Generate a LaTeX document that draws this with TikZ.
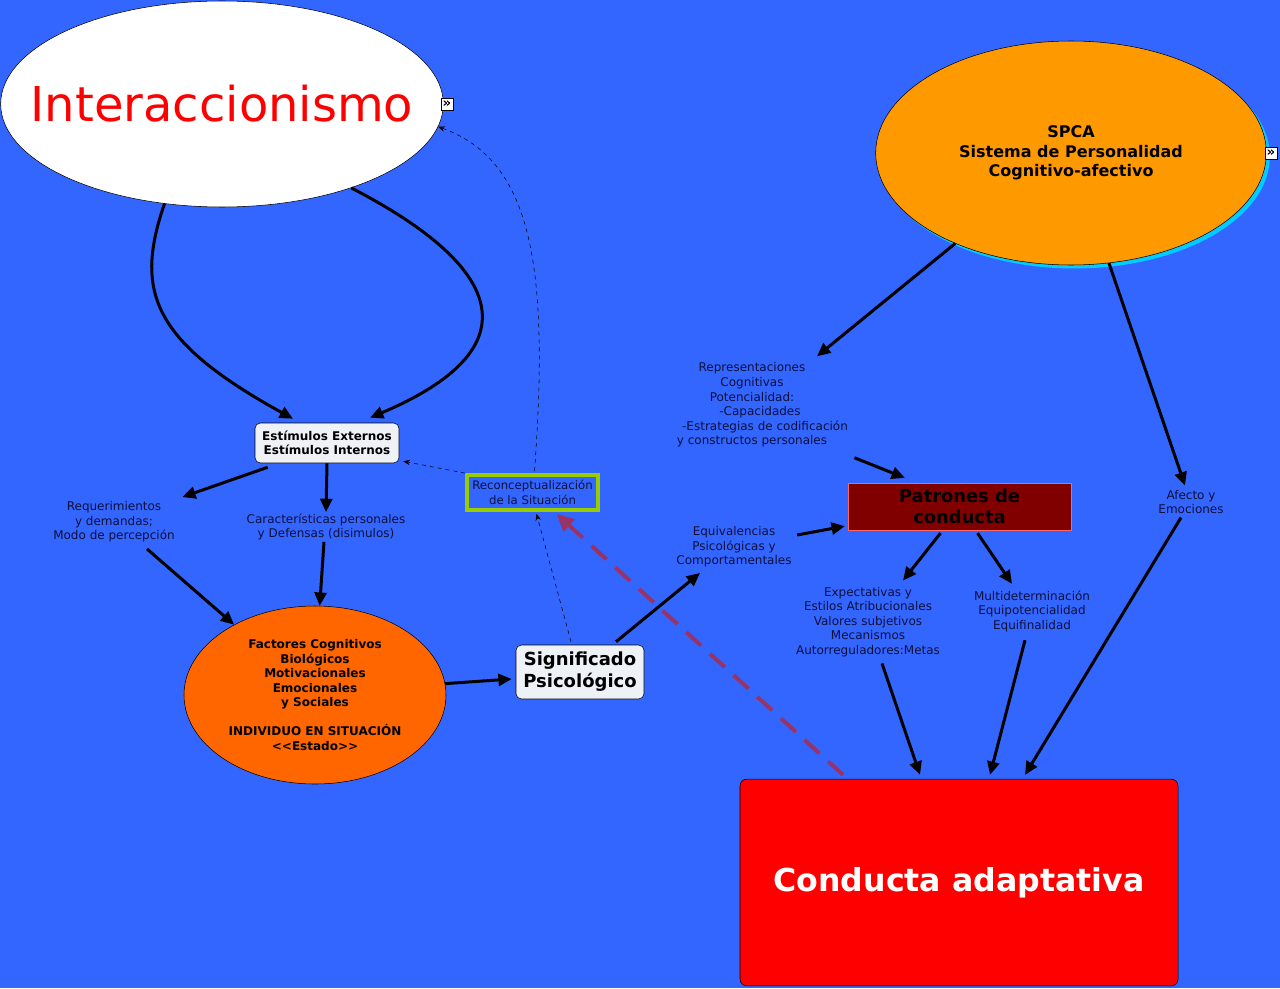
\documentclass[tikz,border=0pt]{standalone}
\usepackage{fontspec}
\setmainfont{DejaVu Sans}
\usepackage{xcolor}
\usepackage{tikz}
\usetikzlibrary{positioning,arrows.meta,shapes.geometric,calc,shadows}
\definecolor{bgblue}{RGB}{51,102,255}
\definecolor{lbltext}{RGB}{15,15,60}
\definecolor{spcaorange}{RGB}{255,153,0}
\definecolor{spcashade}{RGB}{0,204,255}
\definecolor{factorange}{RGB}{255,102,0}
\definecolor{patrred}{RGB}{128,0,0}
\definecolor{patredge}{RGB}{255,102,102}
\definecolor{boxfill}{RGB}{238,242,246}
\definecolor{reconcgreen}{RGB}{153,204,0}
\definecolor{backlink}{RGB}{153,51,102}
\tikzset{
  lbl/.style={align=center, text=lbltext, inner sep=1pt,
              font=\fontsize{9}{10.9}\selectfont},
  whitebox/.style={draw, thin, fill=boxfill, rounded corners=4pt, align=center,
                   inner sep=0pt},
  bigoval/.style={ellipse, draw, thin, inner sep=0pt, align=center},
  linkicon/.style={draw, thin, fill=white, inner sep=0pt, minimum size=9pt,
                   font=\fontsize{10}{10}\selectfont\bfseries},
  arrow/.style={-{Triangle[length=10pt,width=9pt]}, line width=2.25pt},
  dotarrow/.style={-{Stealth[length=5pt,width=4pt]}, thin, dashed},
  backarrow/.style={-{Triangle[length=13pt,width=12pt]}, line width=3pt,
                    backlink, dash pattern=on 15pt off 9pt},
}
\begin{document}
\begin{tikzpicture}[x=0.75pt,y=-0.75pt]
  \fill[bgblue] (0,0) rectangle (1280,988);
  \useasboundingbox (0,0) rectangle (1280,988);

  % main ovals
  \node[bigoval, fill=white, minimum width=332pt, minimum height=154.5pt,
        text=red, font=\fontsize{36}{40}\selectfont] (inter) at (222,104)
        {\makebox[0pt]{Interaccionismo}};
  \node[bigoval, fill=spcaorange, minimum width=293pt, minimum height=168pt,
        font=\fontsize{12}{14.6}\selectfont\bfseries,
        drop shadow={shadow xshift=2.6pt, shadow yshift=-2.6pt, fill=spcashade, opacity=1}]
        (spca) at (1071,153) {SPCA\\Sistema de Personalidad\\Cognitivo-afectivo};
  \node[linkicon] (intericon) at (447,104) {»};
  \node[linkicon] (spcaicon) at (1271,153) {»};

  % left branch
  \node[whitebox, minimum width=108pt, minimum height=30pt,
        font=\fontsize{9}{10.5}\selectfont\bfseries] (estim) at (327,443)
        {Estímulos Externos\\Estímulos Internos};
  \node[lbl] (req) at (114,522) {Requerimientos\\y demandas;\\Modo de percepción};
  \node[lbl] (car) at (326,527) {Características personales\\y Defensas (disimulos)};
  \node[bigoval, fill=factorange, minimum width=196.5pt, minimum height=133.5pt,
        font=\fontsize{9}{10.9}\selectfont\bfseries] (fact) at (315,695)
        {Factores Cognitivos\\Biológicos\\Motivacionales\\Emocionales\\y Sociales\\[10.9pt]
         INDIVIDUO EN SITUACIÓN\\<{}<Estado>{}>};
  \node[whitebox, minimum width=96pt, minimum height=40.5pt,
        font=\fontsize{13.5}{16.5}\selectfont\bfseries] (sig) at (580,672)
        {Significado\\Psicológico};
  \node[draw=reconcgreen, line width=3pt, minimum width=98pt, minimum height=26pt,
        lbl, font=\fontsize{8.8}{10.9}\selectfont] (reconc) at (532.5,492.5)
        {Reconceptualización\\de la Situación};

  % right branch
  \node[lbl] (repr) at (752,405) {Representaciones\\Cognitivas\\Potencialidad:\\
        \hspace*{12pt}-Capacidades\\\hspace*{19.5pt}-Estrategias de codificación\\y constructos personales};
  \node[draw=patredge, fill=patrred, minimum width=167pt, minimum height=35pt,
        inner sep=0pt, align=center, font=\fontsize{13.4}{15.8}\selectfont\bfseries]
        (patr) at (959.5,506.5) {Patrones de\\conducta};
  \node[lbl] (equiv) at (734,547) {Equivalencias\\Psicológicas y\\Comportamentales};
  \node[lbl] (expect) at (868,622) {Expectativas y\\Estilos Atribucionales\\Valores subjetivos\\
        Mecanismos\\Autorreguladores:Metas};
  \node[lbl] (multi) at (1032,611) {Multideterminación\\Equipotencialidad\\Equifinalidad};
  \node[lbl] (afect) at (1191,502) {Afecto y\\Emociones};
  \node[draw, thin, fill=red, rounded corners=5pt, minimum width=328.5pt,
        minimum height=155pt, text=white, font=\fontsize{23.7}{28}\selectfont\bfseries]
        (cond) at (959,882.5) {Conducta adaptativa};

  % connectors
  \draw[arrow] (inter.-120) .. controls (135,290) and (150,340) .. ($(estim.north)+(-34,-4)$);
  \draw[arrow] (inter.-33) .. controls (510,270) and (530,350) .. ($(estim.north)+(43,-5)$);
  \draw[arrow] ($(estim.south west)+(13,4)$) -- ($(req.north east)+(6,-3)$);
  \draw[arrow] (estim.south) -- (car.north);
  \draw[arrow] ($(req.south)+(33,5)$) -- (fact.139);
  \draw[arrow] ($(car.south)+(-2,0)$) -- (fact.87);
  \draw[arrow] (fact.5) -- ($(sig.west)+(-4,7)$);
  \draw[arrow] ($(sig.north)+(36,-3)$) -- ($(equiv.south)+(-34,4)$);
  \draw[arrow] ($(equiv.east)+(4,-12)$) -- ($(patr.south west)+(-3,-4)$);
  \draw[arrow] (spca.-142) -- ($(repr.north)+(65,-5)$);
  \draw[arrow] ($(repr.south east)+(5,9)$) -- ($(patr.north west)+(57,-5)$);
  \draw[arrow] (spca.-71) -- ($(afect.north)+(-6,-3)$);
  \draw[arrow] ($(patr.south)+(-19,3)$) -- ($(expect.north)+(35,-5)$);
  \draw[arrow] ($(patr.south)+(18,3)$) -- ($(multi.north)+(-20,-5)$);
  \draw[arrow] ($(expect.south)+(14,5)$) -- ($(cond.north)+(-39,-4)$);
  \draw[arrow] ($(multi.south)+(-7,7)$) -- ($(cond.north)+(31,-4)$);
  \draw[arrow] ($(afect.south)+(-10,2)$) -- ($(cond.north)+(66,-4)$);
  \draw[dotarrow] ($(sig.north)+(-9,-3)$) -- ($(reconc.south)+(4,2)$);
  \draw[dotarrow] (reconc.north west) -- ($(estim.south east)+(4,-2)$);
  \draw[dotarrow] ($(reconc.north)+(2,-2)$) .. controls (550,260) and (530,160) .. (inter.-6);
  \draw[backarrow] ($(cond.north)+(-116,-4)$) -- ($(reconc.south)+(24,2)$);
\end{tikzpicture}
\end{document}
